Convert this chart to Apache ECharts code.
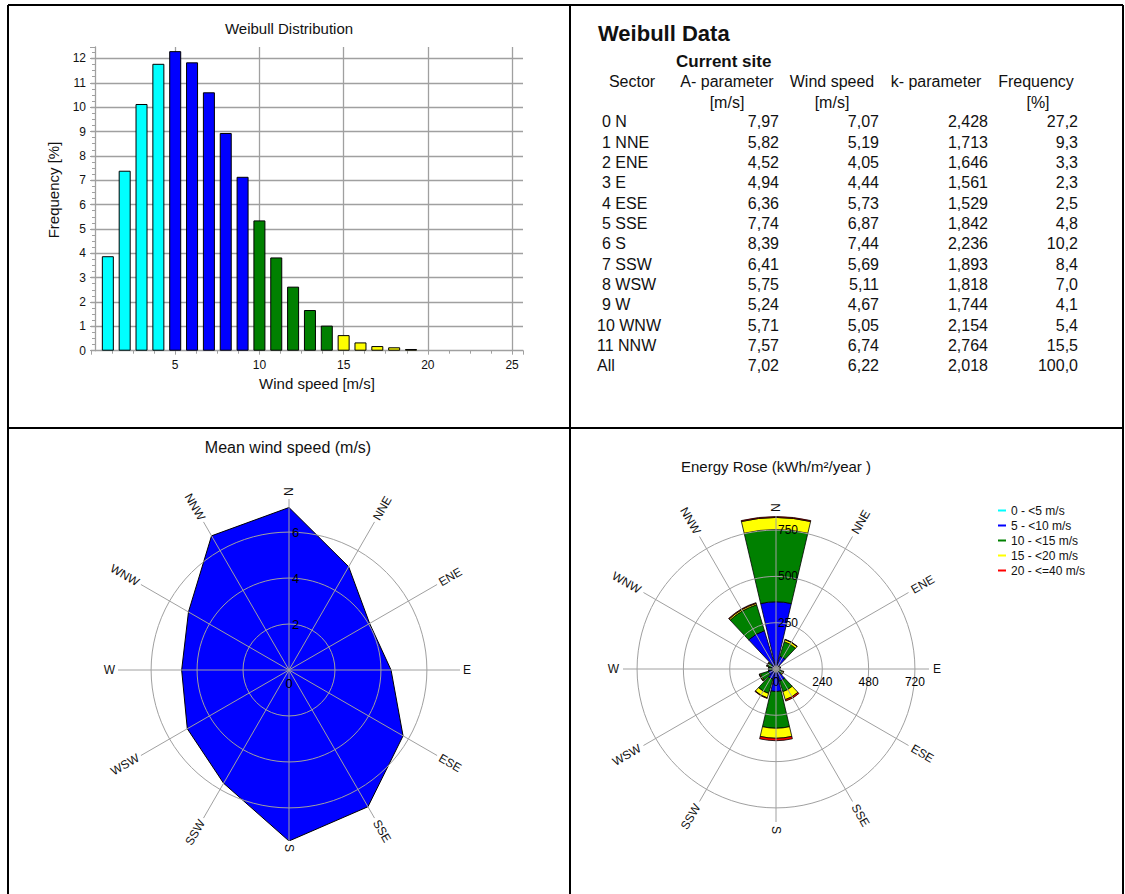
<!DOCTYPE html>
<html><head><meta charset="utf-8">
<script src="https://cdn.jsdelivr.net/npm/echarts@6/dist/echarts.min.js"></script>
<style>html,body{margin:0;padding:0;background:#fff}#c{width:1125px;height:894px}</style>
</head><body><div id="c"></div>
<script>
// ---------------- data ----------------
const speedBins = [1,2,3,4,5,6,7,8,9,10,11,12,13,14,15,16,17,18,19];
const binFreq   = [3.88,7.39,10.13,11.78,12.30,11.84,10.61,8.94,7.14,5.35,3.83,2.63,1.67,1.03,0.64,0.34,0.19,0.14,0.07];

const sectorLabels = ['0 N','1 NNE','2 ENE','3 E','4 ESE','5 SSE','6 S','7 SSW','8 WSW','9 W','10 WNW','11 NNW'];
const directions   = ['N','NNE','ENE','E','ESE','SSE','S','SSW','WSW','W','WNW','NNW'];
const aParam    = [7.97,5.82,4.52,4.94,6.36,7.74,8.39,6.41,5.75,5.24,5.71,7.57];
const windSpeed = [7.07,5.19,4.05,4.44,5.73,6.87,7.44,5.69,5.11,4.67,5.05,6.74];
const kParam    = [2.428,1.713,1.646,1.561,1.529,1.842,2.236,1.893,1.818,1.744,2.154,2.764];
const freqPct   = [27.2,9.3,3.3,2.3,2.5,4.8,10.2,8.4,7.0,4.1,5.4,15.5];
const allLabel = 'All', allA = 7.02, allWs = 6.22, allK = 2.018, allF = 100.0;

const energyClasses = ['0 - <5 m/s','5 - <10 m/s','10 - <15 m/s','15 - <20 m/s','20 - <=40 m/s'];
const energyCyan   = [4,3,3,2,2,3,4,3,3,3,3,4];
const energyBlue   = [359,69,12,10,14,65,118,55,40,20,25,212];
const energyGreen  = [390,82,8,7,20,60,198,80,45,15,20,146];
const energyYellow = [65,12,2,2,6,45,54,25,6,3,4,8];
const energyRed    = [5,2,0.5,0.5,2,8,13,3,1,0,1,4];
const energyStepN = 250;   // ring labels along N axis
const energyStepE = 240;   // ring labels along E axis
const speedStep = 2;
// --------------------------------------

const FONT = '"Liberation Sans", Arial, sans-serif';
const TXT = '#111';
const GRID = '#a0a0a0';
const NONE = 'rgba(0,0,0,0)';
const classColors = ['#00ffff','#0000ff','#008000','#ffff00','#ff0000'];
const fmt = (v, d) => v.toFixed(d).replace('.', ',');

const g = [];
const line = (x1,y1,x2,y2,w) => ({type:'line', silent:true, z:100, shape:{x1,y1,x2,y2}, style:{stroke:'#000', lineWidth:w}});
const txt = (s, x, y, font, align, extra) => Object.assign({type:'text', silent:true, z:50, x, y,
  style:{text:s, font:font, fill:TXT, align:align || 'left', verticalAlign:'middle'}}, extra || {});

// panel frame
g.push(line(8,5,1123,5,2), line(8,5,8,894,2), line(1123,5,1123,894,2), line(570,5,570,894,2), line(8,428,1123,428,2));

// titles
g.push(txt('Weibull Distribution', 289, 28, '15px ' + FONT, 'center'));
g.push(txt('Mean wind speed (m/s)', 288, 447, '16px ' + FONT, 'center'));
g.push(txt('Energy Rose (kWh/m²/year )', 776, 466, '15px ' + FONT, 'center'));
g.push(txt('Wind speed [m/s]', 317, 383, '15px ' + FONT, 'center'));
g.push(txt('Frequency [%]', 53, 190, '15px ' + FONT, 'center', {rotation: Math.PI/2}));

// table
const F16 = '16px ' + FONT;
g.push(txt('Weibull Data', 598, 33, 'bold 22px ' + FONT, 'left'));
g.push(txt('Current site', 676, 61, 'bold 17px ' + FONT, 'left'));
g.push(txt('Sector', 632, 81, F16, 'center'));
g.push(txt('A- parameter', 727, 81, F16, 'center'));
g.push(txt('Wind speed', 832, 81, F16, 'center'));
g.push(txt('k- parameter', 936, 81, F16, 'center'));
g.push(txt('Frequency', 1036, 81, F16, 'center'));
g.push(txt('[m/s]', 727, 102, F16, 'center'));
g.push(txt('[m/s]', 832, 102, F16, 'center'));
g.push(txt('[%]', 1038, 102, F16, 'center'));
const rows = sectorLabels.map((s,i)=>[s, fmt(aParam[i],2), fmt(windSpeed[i],2), fmt(kParam[i],3), fmt(freqPct[i],1)]);
rows.push([allLabel, fmt(allA,2), fmt(allWs,2), fmt(allK,3), fmt(allF,1)]);
rows.forEach((r,i)=>{
  const y = 121.7 + i*20.33;
  const wide = /^\d\d/.test(r[0]) || r[0] === allLabel;
  g.push(txt(r[0], wide ? 597 : 602, y, F16, 'left'));
  g.push(txt(r[1], 779, y, F16, 'right'));
  g.push(txt(r[2], 879, y, F16, 'right'));
  g.push(txt(r[3], 988, y, F16, 'right'));
  g.push(txt(r[4], 1078, y, F16, 'right'));
});

const SPD_MAX = Math.max(...windSpeed);
const E_MAX = 826;

function dirLabelSeries(polarIndex, rMax, pad, fontSize) {
  return {
    type:'custom', coordinateSystem:'polar', polarIndex, z:20, silent:true,
    data: directions.map((d,i)=>[rMax, i*30]),
    renderItem: (params, api) => {
      const i = params.dataIndex;
      const c = api.coord([0, 0]);
      const p = api.coord([api.value(0), api.value(1)]);
      const dx = p[0]-c[0], dy = p[1]-c[1];
      const len = Math.hypot(dx, dy) || 1;
      const theta = api.value(1);
      const right = theta <= 180;
      const rot = (right ? 90 - theta : 270 - theta) * Math.PI / 180;
      return {type:'text', x: p[0] + dx/len*pad, y: p[1] + dy/len*pad, rotation: rot,
        style:{text: directions[i], fill: TXT, font: fontSize + 'px ' + FONT,
               align: right ? 'left' : 'right', verticalAlign:'middle'}};
    }
  };
}

const hidden = {axisLine:{show:false}, axisTick:{show:false}, axisLabel:{show:false}, splitLine:{show:false}};
const spokes = {type:'value', min:0, max:360, interval:30, startAngle:90, clockwise:true, z:10,
  axisLine:{show:false}, axisTick:{show:false}, axisLabel:{show:false},
  splitLine:{show:true, lineStyle:{color:GRID, width:1}}};
// ring colours per tick: 0, step1, step2, step3, axis max (hidden)
const ringColors = [NONE, GRID, GRID, GRID, NONE];

const barSeries = [energyCyan, energyBlue, energyGreen, energyYellow, energyRed].map((arr, k) => ({
  type:'bar', name: energyClasses[k], coordinateSystem:'polar', polarIndex:4, stack:'energy',
  barCategoryGap:'12%', data: arr, z:2,
  itemStyle:{color: classColors[k], borderColor:'#000', borderWidth:0.8}
}));

const option = {
  animation:false,
  textStyle:{fontFamily: FONT},
  graphic: g,
  grid:[{left:91, top:47, width:432, height:303.7}],
  xAxis:[{type:'value', min:0, max:25.65, interval:5,
    axisLine:{show:true, lineStyle:{color:GRID, width:1.3}},
    axisTick:{show:true, length:4, lineStyle:{color:GRID}},
    minorTick:{show:true, splitNumber:4, length:3, lineStyle:{color:GRID}},
    splitLine:{show:true, showMinLine:false, showMaxLine:false, lineStyle:{color:GRID, width:1.3}},
    axisLabel:{showMinLabel:false, showMaxLabel:false, fontSize:12, color:TXT, margin:8}}],
  yAxis:[{type:'value', min:0, max:12.47, interval:1, offset:-4,
    axisLine:{show:true, lineStyle:{color:GRID, width:1.3}},
    axisTick:{show:true, length:5, lineStyle:{color:GRID}},
    minorTick:{show:true, splitNumber:4, length:3, lineStyle:{color:GRID}},
    splitLine:{show:true, showMinLine:false, showMaxLine:false, lineStyle:{color:GRID, width:1.3}},
    axisLabel:{showMaxLabel:false, fontSize:12, color:TXT, margin:9}}],
  polar:[
    {center:[289,670], radius:171},
    {center:[289,670], radius:171},
    {center:[776,669], radius:153},
    {center:[776,669], radius:153},
    {center:[776,669], radius:153}
  ],
  angleAxis:[
    Object.assign({polarIndex:0}, spokes),
    Object.assign({polarIndex:1, type:'value', min:0, max:360, startAngle:0}, hidden),
    Object.assign({polarIndex:2}, spokes),
    Object.assign({polarIndex:3, type:'value', min:0, max:360, startAngle:0}, hidden),
    Object.assign({polarIndex:4, type:'category', data:directions, startAngle:105, clockwise:true, boundaryGap:true}, hidden)
  ],
  radiusAxis:[
    {polarIndex:0, type:'value', min:0, max:SPD_MAX, interval:speedStep, z:10,
      axisLine:{show:false}, axisTick:{show:false},
      splitLine:{show:true, showMaxLine:false, lineStyle:{color:ringColors, width:1}},
      axisLabel:{show:true, showMinLabel:false, showMaxLabel:false, margin:-3, align:'left', verticalAlign:'middle', fontSize:13, color:'#000'}},
    {polarIndex:1, type:'value', min:0, max:SPD_MAX, interval:speedStep, z:10,
      axisLine:{show:false}, axisTick:{show:false}, splitLine:{show:false},
      axisLabel:{show:true, showMaxLabel:false, margin:-7, align:'center', verticalAlign:'top', fontSize:13, color:'#000',
        formatter: v => (v === 0 ? '0' : '')}},
    {polarIndex:2, type:'value', min:0, max:E_MAX, interval:energyStepN, z:10,
      axisLine:{show:false}, axisTick:{show:false},
      splitLine:{show:true, showMaxLine:false, lineStyle:{color:ringColors, width:1}},
      axisLabel:{show:true, showMinLabel:false, showMaxLabel:false, margin:-2, align:'left', verticalAlign:'middle', fontSize:12, color:'#000'}},
    {polarIndex:3, type:'value', min:0, max:E_MAX*energyStepE/energyStepN, interval:energyStepE, z:10,
      axisLine:{show:false}, axisTick:{show:false}, splitLine:{show:false},
      axisLabel:{show:true, showMaxLabel:false, margin:-7, align:'center', verticalAlign:'top', fontSize:12, color:'#000'}},
    Object.assign({polarIndex:4, type:'value', min:0, max:E_MAX}, hidden)
  ],
  legend:{orient:'vertical', left:993, top:499, itemWidth:8, itemHeight:2, itemGap:2, icon:'rect',
    selectedMode:false, data: energyClasses,
    itemStyle:{borderWidth:0},
    textStyle:{fontSize:12, color:TXT, fontFamily:FONT, lineHeight:13}},
  series:[
    {type:'bar', xAxisIndex:0, yAxisIndex:0, barWidth:12,
      itemStyle:{borderColor:'#000', borderWidth:1},
      data: speedBins.map((x,i)=>({value:[x, binFreq[i]], itemStyle:{color: classColors[Math.floor(x/5)]}}))},
    {type:'line', coordinateSystem:'polar', polarIndex:0, symbol:'none', z:2,
      lineStyle:{color:'#000', width:1}, areaStyle:{color:'#0000ff', opacity:1},
      data: windSpeed.map((v,i)=>[v, i*30]).concat([[windSpeed[0], 360]])},
    ...barSeries,
    {type:'scatter', coordinateSystem:'polar', polarIndex:2, z:12, silent:true, symbolSize:7,
      itemStyle:{color:'#999'}, data:[[0,0]]},
    dirLabelSeries(0, SPD_MAX, 3, 12),
    dirLabelSeries(2, E_MAX, 4, 12)
  ]
};

const chart = echarts.init(document.getElementById('c'), null, {renderer:'svg'});
chart.setOption(option);
</script>
</body></html>
